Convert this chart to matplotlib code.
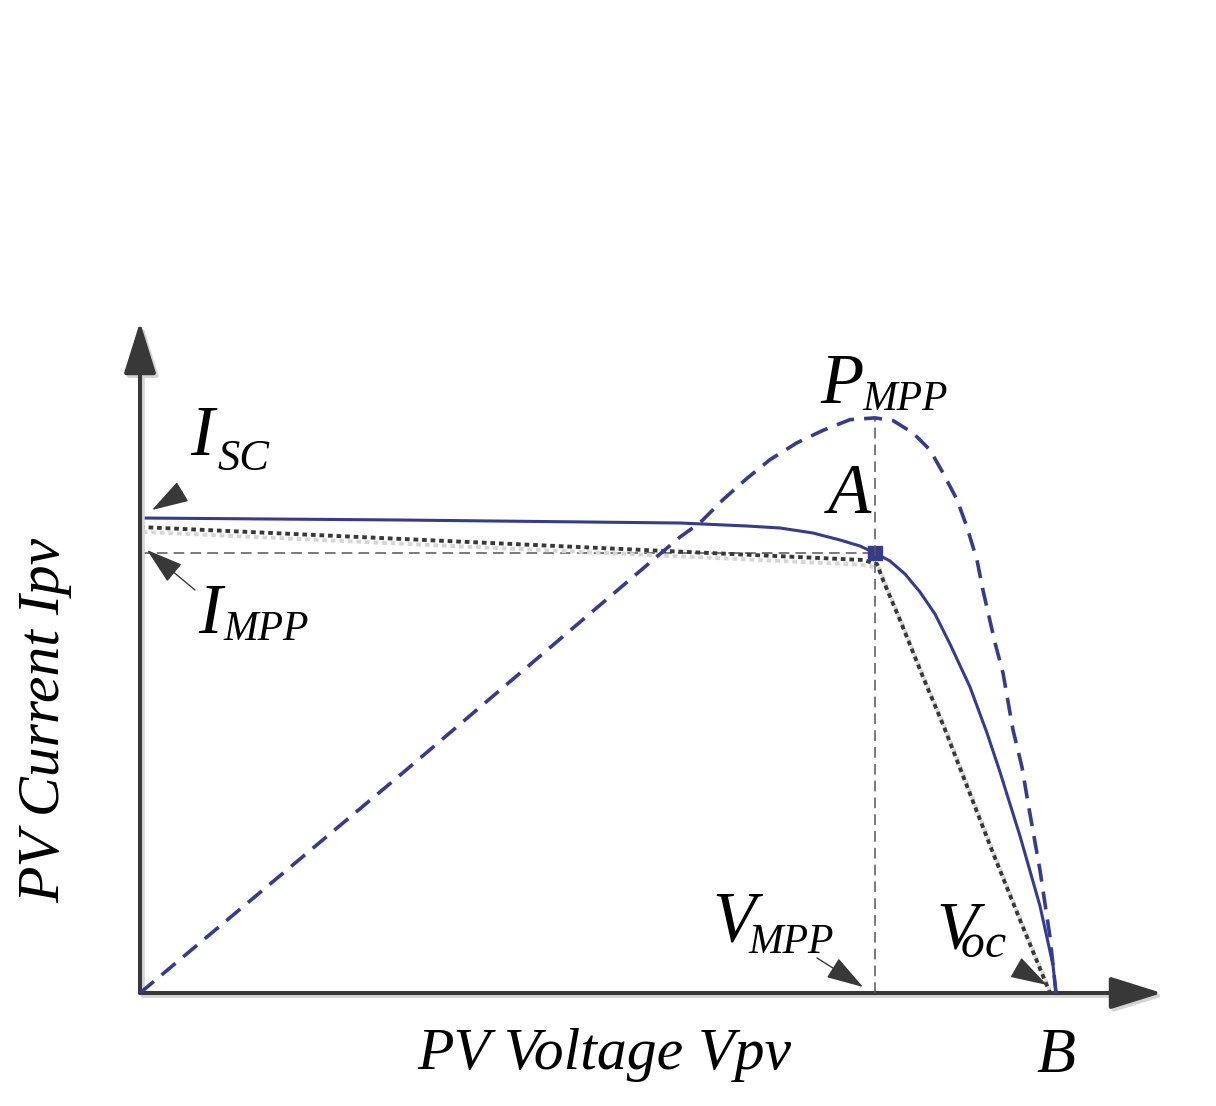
import numpy as np
import matplotlib.pyplot as plt
from matplotlib.transforms import ScaledTranslation

# I-V characteristic (volts, amps)
volt_iv = [0, 5.2, 10.8, 12.14, 12.8, 13.46, 14.0, 14.4, 14.7, 15.0, 15.3, 15.6, 15.9,
           16.2, 16.6, 16.94, 17.2, 17.6, 18.0, 18.26, 18.32]
curr_iv = [4.75, 4.73, 4.70, 4.67, 4.65, 4.60, 4.53, 4.47, 4.40, 4.32, 4.19, 4.01, 3.79,
           3.49, 3.06, 2.60, 2.21, 1.57, 0.87, 0.28, 0.0]

# P-V characteristic (volts, watts)
volt_pw = [0, 5.2, 10.8, 11.2, 11.66, 12.14, 12.6, 13.14, 13.66, 14.2, 14.7, 15.06, 15.46,
           15.8, 16.06, 16.34, 16.54, 16.74, 16.86, 17.1, 17.26, 17.46, 17.64, 17.76, 18.0,
           18.2, 18.32]
power = [0, 24.5, 51.3, 52.9, 55.5, 57.9, 60.0, 61.9, 63.3, 64.5, 64.7, 64.4, 63.0,
         61.1, 58.5, 55.5, 52.4, 48.7, 45.3, 39.4, 36.0, 29.6, 25.4, 21.4, 13.8,
         6.3, 0]

# two-segment approximation of the I-V curve
volt_lin = [0, 14.46, 14.74, 14.86, 15.2, 15.66, 16.08, 17.06, 17.6, 18.2]
curr_lin = [4.66, 4.33, 4.29, 4.13, 3.73, 3.16, 2.66, 1.40, 0.73, 0.0]

V_MPP = 14.7
I_MPP = 4.40
P_MPP = 64.7

blue = '#363b8c'
dark = '#383838'

plt.rcParams['font.family'] = 'Liberation Serif'
plt.rcParams['mathtext.fontset'] = 'custom'
plt.rcParams['mathtext.it'] = 'Liberation Serif:italic'
plt.rcParams['mathtext.rm'] = 'Liberation Serif'

fig = plt.figure(figsize=(12.16, 11.06), dpi=100)
ax = fig.add_axes([140/1216, 113/1106, 1022/1216, 671/1106])
ax.set_xlim(0, 20.44)
ax.set_ylim(0, 6.71)
ax.axis('off')
ax2 = ax.twinx()
ax2.set_ylim(0, 6.71*11.25)
ax2.axis('off')

# reference lines at the MPP
ax.plot([0, V_MPP], [I_MPP, I_MPP], color='#555555', lw=1.1, dashes=(7, 4))
ax2.plot([V_MPP, V_MPP], [0, P_MPP], color='#555555', lw=1.1, dashes=(7, 4))

# approximation, with its light shadow
shadow = ax.transData + ScaledTranslation(2/72, -3.5/72, fig.dpi_scale_trans)
ax.plot(volt_lin, curr_lin, color='#d6d6d6', lw=2.8, dashes=(1.2, 1.0), transform=shadow)
ax.plot(volt_lin, curr_lin, color=dark, lw=2.8, dashes=(1.2, 1.0))

ax2.plot(volt_pw, power, color=blue, lw=2.6, dashes=(5, 2.8))
ax.plot(volt_iv, curr_iv, color=blue, lw=2.2)
ax.plot(V_MPP, I_MPP, marker='s', color=blue, markersize=9.5)

# axes with arrow heads (plus a faint shadow)
ax_shadow = ax.transAxes + ScaledTranslation(2/72, -2/72, fig.dpi_scale_trans)
for tip in [(0, 1), (1, 0)]:
    for col, tr in [('#d4d4d4', ax_shadow), (dark, ax.transAxes)]:
        ax.annotate('', xy=tip, xytext=(0, 0), xycoords=tr,
                    arrowprops=dict(arrowstyle='-|>,head_length=3.2,head_width=1.0',
                                    mutation_scale=10, lw=2.9, color=col,
                                    shrinkA=0, shrinkB=0))

# labels with small arrows
arrows = [((0.24, 4.83), (0.84, 5.01)), ((0.14, 4.43), (1.1, 4.03)),
          ((14.46, 0.06), (13.54, 0.35)), ((18.14, 0.08), (17.54, 0.25))]
for tip, tail in arrows:
    ax.annotate('', xy=tip, xytext=tail,
                arrowprops=dict(arrowstyle='-|>,head_length=2.6,head_width=0.8',
                                mutation_scale=9, lw=1.0, color=dark,
                                shrinkA=0, shrinkB=0))

big = 51
sub = 30
labels = [('I', 'SC', (1.0, 5.38), (1.54, 5.23), 32),
          ('I', 'MPP', (1.16, 3.60), (1.66, 3.53), sub),
          ('P', 'MPP', (13.6, 5.90), (14.44, 5.83), sub),
          ('V', 'MPP', (11.44, 0.53), (12.16, 0.40), sub)]
for main, low, p1, p2, fs in labels:
    ax.text(p1[0], p1[1], main, fontsize=big, style='italic', va='baseline')
    ax.text(p2[0], p2[1], low, fontsize=fs, style='italic', va='baseline')

ax.text(15.92, 0.45, r'$V_{\!\!\!oc}$', fontsize=49, va='baseline')
ax.text(13.76, 4.80, 'A', fontsize=big, style='italic', va='baseline')
ax.text(17.92, -0.79, 'B', fontsize=46, style='italic', va='baseline')

ax.text(5.54, -0.76, 'PV Voltage Vpv', fontsize=43, style='italic', va='baseline')
ax.text(-1.9, 2.73, 'PV Current Ipv', fontsize=43, style='italic', rotation=90,
        ha='center', va='center')

fig.savefig('out.png', dpi=100)
